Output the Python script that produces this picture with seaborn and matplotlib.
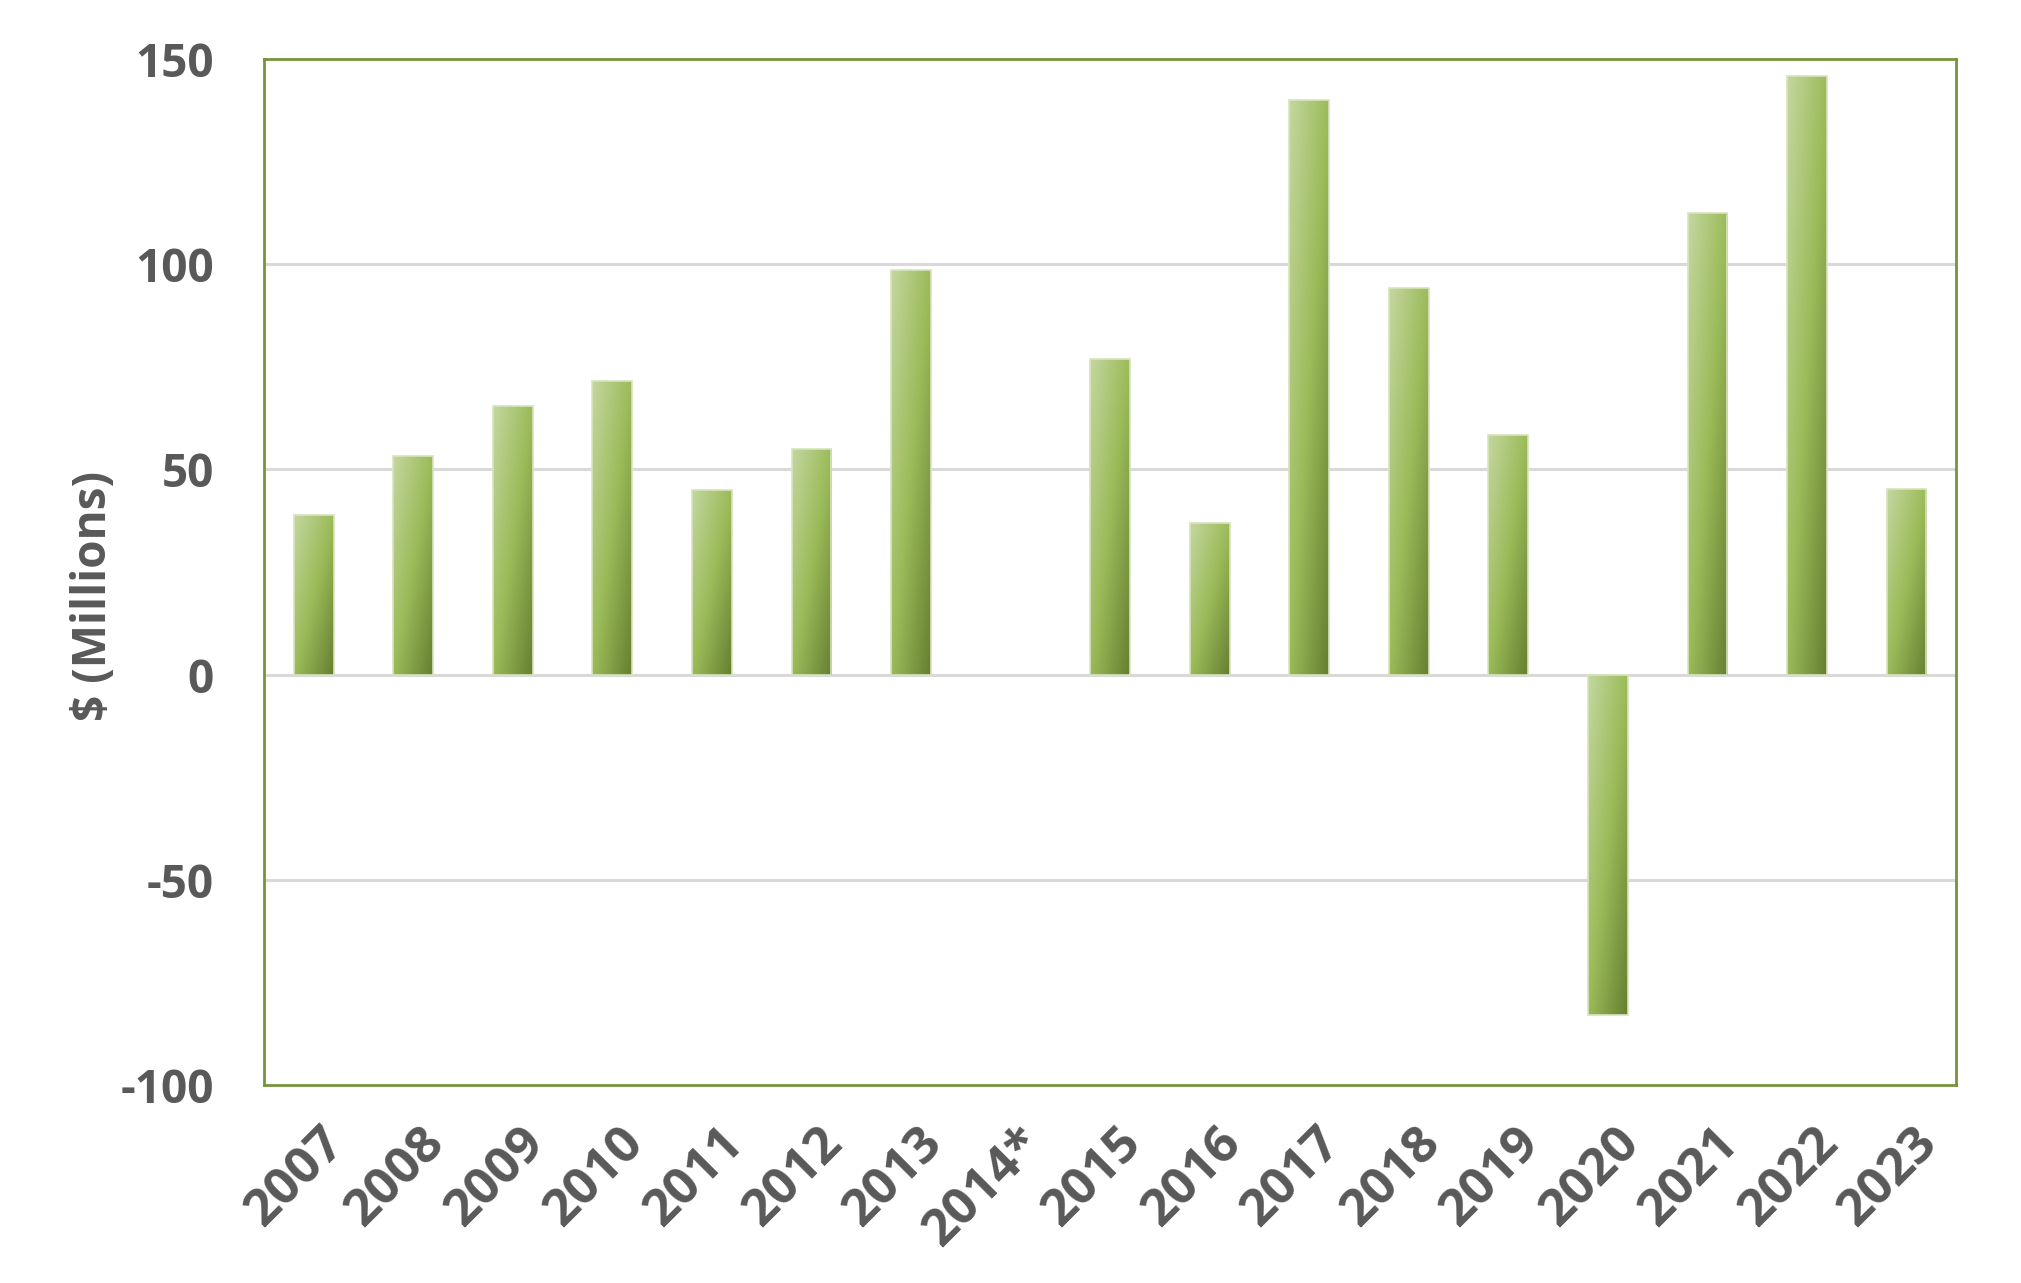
import numpy as np
import pandas as pd
import matplotlib
matplotlib.use("Agg")
import matplotlib.pyplot as plt
import matplotlib.transforms as mtransforms
from matplotlib.colors import LinearSegmentedColormap
import seaborn as sns

years = ["2007", "2008", "2009", "2010", "2011", "2012", "2013", "2014*", "2015",
         "2016", "2017", "2018", "2019", "2020", "2021", "2022", "2023"]
values = [39.0, 53.3, 65.5, 71.5, 45.0, 55.0, 98.5, np.nan, 77.0,
          37.0, 140.0, 94.2, 58.5, -83.0, 112.5, 145.8, 45.2]
y_ticks = [-100, -50, 0, 50, 100, 150]
y_label = "$ (Millions)"

sns.set_theme(style="white")
plt.rcParams["font.family"] = ["Open Sans", "DejaVu Sans"]

df = pd.DataFrame({"year": years, "value": values})

fig = plt.figure(figsize=(20.21, 12.83), dpi=100)
ax = fig.add_axes([0.1306, 0.1543, 0.968 - 0.1306, 0.954 - 0.1543])

sns.barplot(data=df, x="year", y="value", order=years, ax=ax, width=0.4,
            color="#9bbb59", saturation=1, edgecolor="#d7e4bd", linewidth=1.2)

cmap = LinearSegmentedColormap.from_list(
    "xlgreen", [(0.0, "#c4d7a0"), (0.5, "#9bbb59"), (1.0, "#657f30")])
n = 200
gx, gy = np.meshgrid(np.linspace(0, 1, n), np.linspace(0, 1, n))
grad = (gx + gy) / 2.0  # row 0 at top: light top-left, dark bottom-right

for p in list(ax.patches):
    h = p.get_height()
    if h is None or np.isnan(h) or h == 0:
        continue
    x0 = p.get_x()
    w = p.get_width()
    y0, y1 = sorted([p.get_y(), p.get_y() + h])
    im = ax.imshow(grad, cmap=cmap, vmin=0, vmax=1, extent=(x0, x0 + w, y0, y1),
                   origin="upper", aspect="auto", zorder=p.get_zorder() - 0.01,
                   interpolation="bilinear")
    im.set_clip_path(p)
    p.set_facecolor("none")

ax.set_aspect("auto")
ax.set_xlim(-0.5, len(years) - 0.5)
ax.set_ylim(-100, 150)
ax.set_yticks(y_ticks)
ax.set_yticklabels([str(t) for t in y_ticks])

for yv in y_ticks[1:-1]:
    ax.axhline(yv, color="#d9d9d9", lw=2.2, zorder=0.5)

for s in ax.spines.values():
    s.set_visible(True)
    s.set_color("#77933c")
    s.set_linewidth(2.0)

ax.tick_params(axis="both", length=0)
ax.tick_params(axis="y", pad=36)
ax.tick_params(axis="x", pad=24)
ax.set_xlabel("")
ax.set_ylabel(y_label, fontsize=33, fontweight="bold", color="#595959",
              va="center")
ax.yaxis.set_label_coords(-0.101, 0.477)

for lab in ax.get_yticklabels():
    lab.set_fontsize(33)
    lab.set_fontweight("bold")
    lab.set_color("#595959")

offset = mtransforms.ScaledTranslation(6 / 100, 0, fig.dpi_scale_trans)
for lab in ax.get_xticklabels():
    lab.set_fontsize(37)
    lab.set_fontweight("bold")
    lab.set_color("#595959")
    lab.set_rotation(45)
    lab.set_ha("right")
    lab.set_rotation_mode("anchor")
    lab.set_transform(lab.get_transform() + offset)

fig.savefig("out.png", dpi=100, facecolor="white")
